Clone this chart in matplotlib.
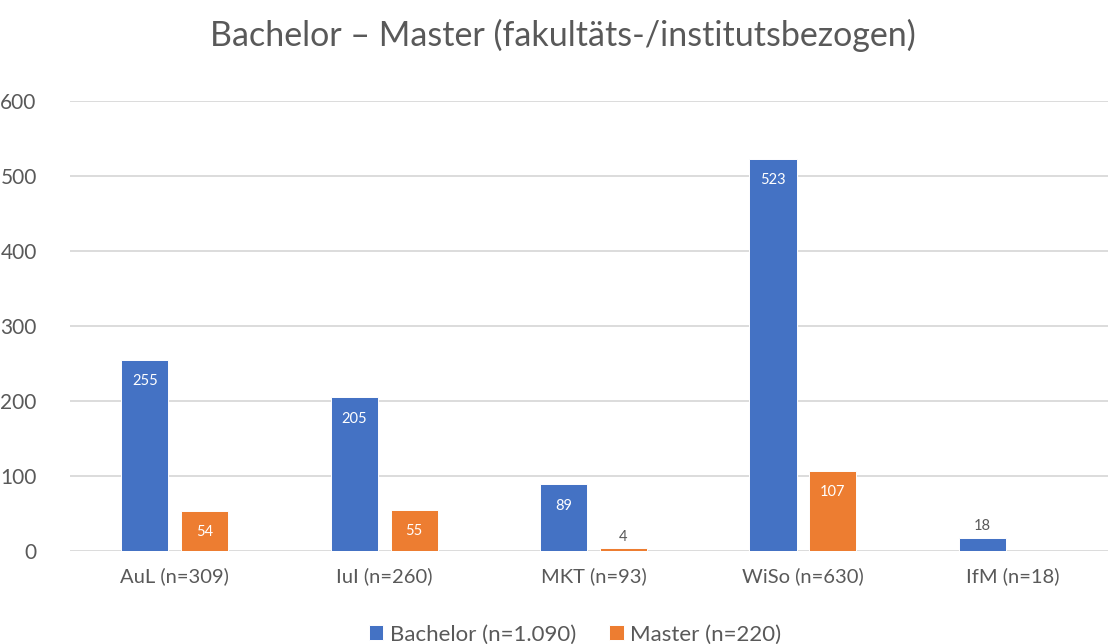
import numpy as np
import matplotlib

matplotlib.use("Agg")
import matplotlib.pyplot as plt

plt.rcParams["font.family"] = ["Lato", "DejaVu Sans"]

categories = ["AuL (n=309)", "IuI (n=260)", "MKT (n=93)", "WiSo (n=630)", "IfM (n=18)"]
bachelor = [255, 205, 89, 523, 18]
master = [54, 55, 4, 107, np.nan]  # IfM: no master students
series_labels = ["Bachelor (n=1.090)", "Master (n=220)"]
title = "Bachelor – Master (fakultäts-/institutsbezogen)"

BLUE = "#4472C4"
ORANGE = "#ED7D31"
GREY = "#595959"

fig = plt.figure(figsize=(11.08, 6.44), dpi=100)
# plot area runs slightly past the right edge of the image, as in the source
ax = fig.add_axes([0.0632, 0.1444, 0.945, 0.6988])

x = np.arange(len(categories))
width = 0.225
offset = 0.143

bars_b = ax.bar(x - offset, bachelor, width, color=BLUE, edgecolor="white", lw=0.7,
                label=series_labels[0], zorder=3)
bars_m = ax.bar(x + offset, master, width, color=ORANGE, edgecolor="white", lw=0.7,
                label=series_labels[1], zorder=3)


def label_bars(bars, values):
    for rect, v in zip(bars, values):
        if np.isnan(v):
            continue
        cx = rect.get_x() + rect.get_width() / 2
        if v >= 40:
            ax.annotate(f"{v:g}", (cx, v), xytext=(0, -10.5), textcoords="offset points",
                        ha="center", va="top", color="white", fontsize=10.5, zorder=4)
        else:
            ax.annotate(f"{v:g}", (cx, v), xytext=(0, 3), textcoords="offset points",
                        ha="center", va="bottom", color=GREY, fontsize=10.5, zorder=4)


label_bars(bars_b, bachelor)
label_bars(bars_m, master)

ax.set_xlim(-0.5, len(categories) - 0.5)
ax.set_ylim(0, 600)
ax.set_yticks(range(0, 601, 100))
ax.set_xticks(x)
ax.set_xticklabels(categories)
ax.tick_params(axis="both", length=0, labelsize=14.5, colors=GREY)
ax.tick_params(axis="y", labelsize=15, pad=24)
ax.tick_params(axis="x", pad=12)
ax.grid(axis="y", color="#D9D9D9", lw=1.3, zorder=0)
for s in ax.spines.values():
    s.set_visible(False)

fig.suptitle(title, x=0.508, y=0.970, fontsize=24.5, color=GREY)

fig.legend(loc="lower center", bbox_to_anchor=(0.519, -0.032), ncol=2, frameon=False,
           fontsize=16, handlelength=0.65, handleheight=0.65, handletextpad=0.3,
           columnspacing=1.5, labelcolor=GREY)

fig.savefig("out.png", dpi=100)
plt.close(fig)
